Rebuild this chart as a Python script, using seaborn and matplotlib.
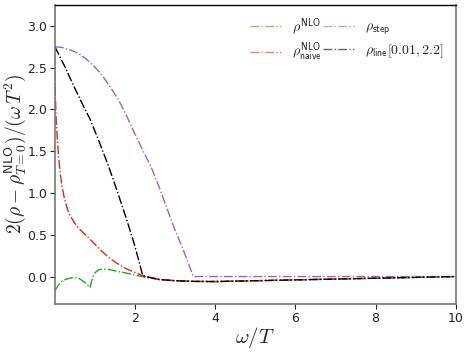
import numpy as np
import pandas as pd
import matplotlib
matplotlib.use("Agg")
import matplotlib.pyplot as plt
import seaborn as sns

# values (omega/T, y)
x_nlo = [0.01, 0.1, 0.2, 0.3, 0.47, 0.6, 0.7, 0.8, 0.89, 0.92, 0.96, 1.02, 1.1, 1.2, 1.35, 1.55, 1.85, 2.13, 2.4, 2.6, 3.0, 3.5, 4.0, 5.0, 6.0, 7.0, 8.0, 9.0, 10.0]
y_nlo = [-0.17, -0.10, -0.05, -0.03, -0.01, -0.02, -0.05, -0.09, -0.13, -0.06, 0.0, 0.05, 0.08, 0.09, 0.085, 0.065, 0.035, 0.005, -0.02, -0.035, -0.05, -0.058, -0.06, -0.05, -0.04, -0.03, -0.02, -0.01, 0.0]

x_naive = [0.01, 0.02, 0.04, 0.07, 0.1, 0.14, 0.18, 0.25, 0.32, 0.39, 0.5, 0.64, 0.77, 0.9, 1.02, 1.14, 1.35, 1.55, 1.8, 2.0, 2.2, 2.6, 3.0, 3.5, 4.0, 5.0, 6.0, 7.0, 8.0, 9.0, 10.0]
y_naive = [2.45, 2.2, 1.9, 1.65, 1.45, 1.25, 1.1, 0.93, 0.81, 0.73, 0.64, 0.56, 0.5, 0.44, 0.38, 0.32, 0.23, 0.16, 0.09, 0.05, 0.01, -0.035, -0.05, -0.058, -0.06, -0.05, -0.04, -0.03, -0.02, -0.01, 0.0]

x_step = [0.01, 0.2, 0.4, 0.6, 0.8, 1.0, 1.2, 1.4, 1.6, 1.8, 2.0, 2.2, 2.4, 2.6, 2.8, 3.0, 3.2, 3.46, 4.0, 6.0, 8.0, 10.0]
y_step = [2.75, 2.74, 2.71, 2.67, 2.60, 2.51, 2.40, 2.26, 2.11, 1.92, 1.71, 1.51, 1.32, 1.08, 0.82, 0.56, 0.33, 0.0, 0.0, 0.0, 0.0, 0.0]

x_line = [0.01, 0.25, 0.47, 0.7, 0.89, 1.1, 1.34, 1.55, 1.8, 2.0, 2.2, 2.6, 3.0, 3.5, 4.0, 5.0, 6.0, 7.0, 8.0, 9.0, 10.0]
y_line = [2.75, 2.52, 2.29, 2.06, 1.88, 1.63, 1.33, 1.04, 0.68, 0.37, 0.01, -0.035, -0.05, -0.058, -0.06, -0.05, -0.04, -0.03, -0.02, -0.01, 0.0]

sns.set_style("ticks")
plt.rcParams["mathtext.fontset"] = "cm"
plt.rcParams["font.family"] = ["DejaVu Sans"]

fig = plt.figure(figsize=(4.69, 3.52), dpi=100)
ax = fig.add_axes([0.117, 0.136, 0.855, 0.85])

lw = 1.0
sns.lineplot(x=x_nlo, y=y_nlo, ax=ax, color="#2ca02c", linestyle="-.", lw=lw, sort=False,
             label=r"$\rho^{\mathsf{NLO}}$")
sns.lineplot(x=x_naive, y=y_naive, ax=ax, color="#d62728", linestyle="-.", lw=lw, sort=False,
             label=r"$\rho^{\mathsf{NLO}}_{\mathsf{naive}}$")
sns.lineplot(x=x_step, y=y_step, ax=ax, color="#9467bd", linestyle="-.", lw=lw, sort=False,
             label=r"$\rho_{\mathsf{step}}$")
sns.lineplot(x=x_line, y=y_line, ax=ax, color="black", linestyle="-.", lw=lw, sort=False,
             label=r"$\rho_{\mathsf{line}}\mathsf{[0.01,2.2]}$")

ax.set_xlim(0.01, 10)
ax.set_ylim(-0.33, 3.25)
ax.set_xticks([2, 4, 6, 8, 10])
ax.set_yticks([0.0, 0.5, 1.0, 1.5, 2.0, 2.5, 3.0])
ax.set_yticklabels(["0.0", "0.5", "1.0", "1.5", "2.0", "2.5", "3.0"])
ax.tick_params(labelsize=9, colors="#222222", length=3.5, width=0.8, pad=2)
for side in ["left", "right", "bottom"]:
    ax.spines[side].set_visible(True)
    ax.spines[side].set_color("#777777")
    ax.spines[side].set_linewidth(1.2)
ax.spines["top"].set_visible(True)
ax.spines["top"].set_color("black")
ax.spines["top"].set_linewidth(1.0)

ax.set_xlabel(r"$\omega/T$", fontsize=15, labelpad=0)
ax.set_ylabel(r"$2(\rho-\rho^{\mathsf{NLO}}_{T=0})/(\omega\,T^2)$", fontsize=14)
ax.yaxis.set_label_coords(-0.067, 0.5)

leg = ax.legend(ncol=2, loc="upper right", frameon=False, fontsize=10,
                handlelength=2.2, columnspacing=0.1, labelspacing=0.35, handletextpad=0.8,
                bbox_to_anchor=(1.0, 1.005))
for h in leg.get_lines():
    h.set_alpha(0.6)

fig.savefig("out.png", dpi=100)
